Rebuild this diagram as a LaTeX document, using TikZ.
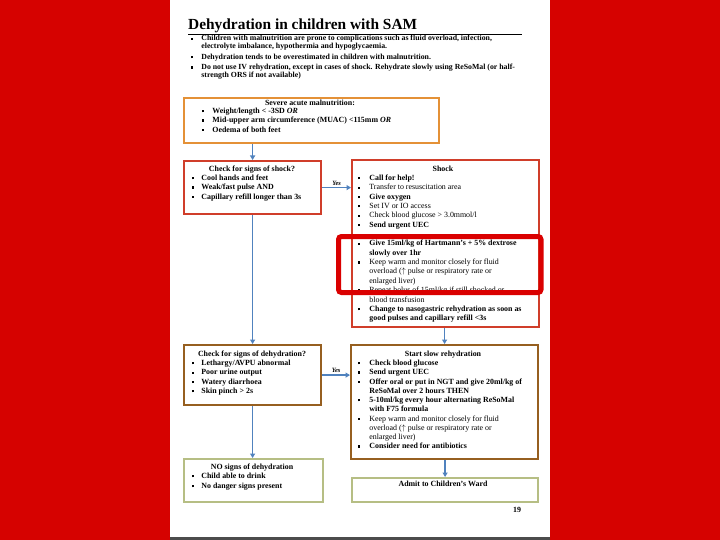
\documentclass[tikz,border=0pt]{standalone}
\usepackage{fontspec}
\setmainfont{Liberation Serif}
\usetikzlibrary{arrows.meta}
\definecolor{pagered}{RGB}{214,2,0}
\definecolor{orangeb}{RGB}{228,145,55}
\definecolor{shockred}{RGB}{208,62,42}
\definecolor{brownb}{RGB}{150,95,32}
\definecolor{greenb}{RGB}{182,190,132}
\definecolor{arrowblue}{RGB}{80,130,190}
\definecolor{hilite}{RGB}{218,0,0}
\newcommand{\sqb}{\rule[1.1pt]{2.2pt}{2.2pt}}
\newcommand{\upar}{$\uparrow$}
\begin{document}
\begin{tikzpicture}[x=1pt,y=-1pt,
  frame/.style={draw=#1, line width=2.2pt, fill=white, inner sep=0pt, anchor=north west},
  txt/.style={inner sep=0pt, anchor=base west, font=\fontsize{7.9}{9.3}\selectfont\bfseries},
  head/.style={inner sep=0pt, anchor=base, font=\fontsize{7.9}{9}\selectfont\bfseries},
  arr/.style={draw=arrowblue, line width=1.6pt, -{Triangle[length=4.5pt,width=5pt]}}]
\useasboundingbox (0,0) rectangle (720,540);
% page and background
\fill[pagered] (0,0) rectangle (720,540);
\fill[white] (170,0) rectangle (550,537);
\fill[black!70] (170,537) rectangle (550,540);
% title
\node[inner sep=0pt, anchor=base west, font=\fontsize{15.4}{17}\selectfont\bfseries] (title) at (188,29.5) {Dehydration in children with SAM};
\draw[line width=0.8pt] (188,34.5) -- (522,34.5);
\node[txt, font=\fontsize{7.8}{8}\selectfont\bfseries] (intro) at (191,41) {\begin{tabular}[t]{@{}l@{\hspace{8pt}}l@{}}
\sqb & Children with malnutrition are prone to complications such as fluid overload, infection,\\
 & electrolyte imbalance, hypothermia and hypoglycaemia.\\[2.6pt]
\sqb & Dehydration tends to be overestimated in children with malnutrition.\\[2.2pt]
\sqb & Do not use IV rehydration, except in cases of shock. Rehydrate slowly using ReSoMal (or half-\\
 & strength ORS if not available)
\end{tabular}};
% frames
\node[frame=orangeb, minimum width=255pt, minimum height=45pt] (b1) at (183,97) {};
\node[frame=shockred, minimum width=137pt, minimum height=53pt] (b2) at (183,160) {};
\node[frame=shockred, minimum width=187pt, minimum height=167pt] (shock) at (351,159) {};
\node[frame=brownb, minimum width=137pt, minimum height=60pt] (b3) at (183,344) {};
\node[frame=brownb, minimum width=187pt, minimum height=114pt] (b4) at (350,344) {};
\node[frame=greenb, minimum width=139pt, minimum height=43pt] (b5) at (183,458) {};
\node[frame=greenb, minimum width=186pt, minimum height=24pt] (b6) at (351,477) {};
% box 1 text
\node[head] (h1) at (310,106) {Severe acute malnutrition:};
\node[txt] (t1) at (202,113.5) {\begin{tabular}[t]{@{}l@{\hspace{8pt}}l@{}}
\sqb & Weight/length < -3SD \textit{OR}\\
\sqb & Mid-upper arm circumference (MUAC) <115mm \textit{OR}\\
\sqb & Oedema of both feet
\end{tabular}};
% box 2 text
\node[head] (h2) at (252,171.5) {Check for signs of shock?};
\node[txt] (t2) at (192,180.5) {\begin{tabular}[t]{@{}l@{\hspace{7pt}}l@{}}
\sqb & Cool hands and feet\\
\sqb & Weak/fast pulse AND\\
\sqb & Capillary refill longer than 3s
\end{tabular}};
% shock text
\node[head] (h3) at (443,171.5) {Shock};
\node[txt, font=\fontsize{7.9}{9.35}\selectfont\bfseries] (t3) at (358,180.5) {\begin{tabular}[t]{@{}l@{\hspace{9pt}}l@{}}
\sqb & Call for help!\\
\sqb & \mdseries Transfer to resuscitation area\\
\sqb & Give oxygen\\
\sqb & \mdseries Set IV or IO access\\
\sqb & \mdseries Check blood glucose > 3.0mmol/l\\
\sqb & Send urgent UEC\\
 & \\
\sqb & Give 15ml/kg of Hartmann's + 5\% dextrose\\
 & slowly over 1hr\\
\sqb & \mdseries Keep warm and monitor closely for fluid\\
 & \mdseries overload (\upar{} pulse or respiratory rate or\\
 & \mdseries enlarged liver)\\
\sqb & \mdseries Repeat bolus of 15ml/kg if still shocked or\\
 & \mdseries blood transfusion\\
\sqb & Change to nasogastric rehydration as soon as\\
 & good pulses and capillary refill <3s
\end{tabular}};
% box 3 text
\node[head] (h4) at (252,356.5) {Check for signs of dehydration?};
\node[txt] (t4) at (192,365.5) {\begin{tabular}[t]{@{}l@{\hspace{7pt}}l@{}}
\sqb & Lethargy/AVPU abnormal\\
\sqb & Poor urine output\\
\sqb & Watery diarrhoea\\
\sqb & Skin pinch > 2s
\end{tabular}};
% box 4 text
\node[head] (h5) at (443,356.5) {Start slow rehydration};
\node[txt, font=\fontsize{7.9}{9.25}\selectfont\bfseries] (t5) at (358,365.5) {\begin{tabular}[t]{@{}l@{\hspace{9pt}}l@{}}
\sqb & Check blood glucose\\
\sqb & Send urgent UEC\\
\sqb & Offer oral or put in NGT and give 20ml/kg of\\
 & ReSoMal over 2 hours THEN\\
\sqb & 5-10ml/kg every hour alternating ReSoMal\\
 & with F75 formula\\
\sqb & \mdseries Keep warm and monitor closely for fluid\\
 & \mdseries overload (\upar{} pulse or respiratory rate or\\
 & \mdseries enlarged liver)\\
\sqb & Consider need for antibiotics
\end{tabular}};
% box 5 text
\node[head] (h6) at (252,469.5) {NO signs of dehydration};
\node[txt] (t6) at (192,478.5) {\begin{tabular}[t]{@{}l@{\hspace{7pt}}l@{}}
\sqb & Child able to drink\\[0.7pt]
\sqb & No danger signs present
\end{tabular}};
% box 6 text
\node[head] (h7) at (443,486.5) {Admit to Children's Ward};
% page number
\node[inner sep=0pt, anchor=base, font=\fontsize{7.9}{8}\selectfont\bfseries] (pg) at (517,512) {19};
% arrows
\draw[arr] (b1.south -| b2.north) -- (b2.north);
\draw[arr] (b2.south) -- (b3.north);
\draw[arr] (b3.south) -- (b3.south |- b5.north);
\draw[arr] (b2.east) -- (b2.east -| shock.west) node[midway, above, inner sep=1.5pt, font=\fontsize{6.5}{7}\selectfont\bfseries\itshape] (yes1) {Yes};
\draw[arr] (b3.east) -- (b3.east -| b4.west) node[midway, above, inner sep=1.5pt, font=\fontsize{6.5}{7}\selectfont\bfseries\itshape] (yes2) {Yes};
\draw[arr] (shock.south -| b4.north) -- (b4.north);
\draw[arr] (b4.south -| b6.north) -- (b6.north);
% highlight
\draw[hilite, line width=5pt, rounded corners=3pt] (338.5,236.5) rectangle (541,292.5);
\end{tikzpicture}
\end{document}
